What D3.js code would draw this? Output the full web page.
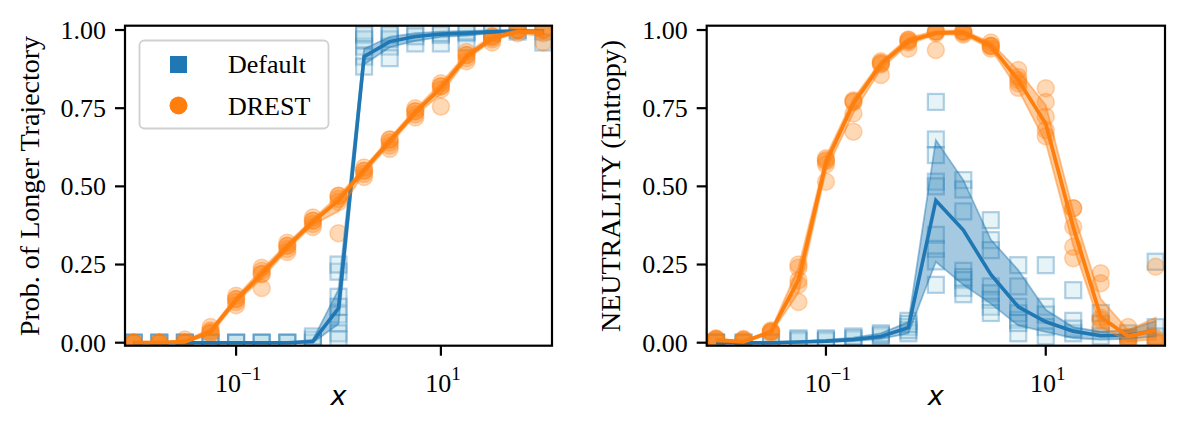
<!DOCTYPE html>
<html>
<head>
<meta charset="utf-8">
<script src="https://cdn.jsdelivr.net/npm/d3@7"></script>
<style>
body { margin: 0; background: #fff; }
text { font-family: "Liberation Serif", "Times New Roman", serif; fill: #000; }
.xlab { font-family: "DejaVu Sans", sans-serif; font-style: italic; }
</style>
</head>
<body>
<svg id="chart" width="1185" height="432"></svg>
<script>
// x grid: quarter decades from 1e-2 to 1e2
var xVals = [0.01, 0.01778, 0.03162, 0.05623, 0.1, 0.1778, 0.3162, 0.5623, 1,
             1.778, 3.162, 5.623, 10, 17.78, 31.62, 56.23, 100];

// ---- left panel: prob. of longer trajectory ----
var defProbMean = [0, 0, 0, 0, 0, 0, 0, 0.004, 0.11, 0.915, 0.963, 0.979, 0.987, 0.99, 0.994, 0.997, 0.995];
var defProbLo   = [0, 0, 0, 0, 0, 0, 0, 0, 0.06, 0.89, 0.945, 0.965, 0.978, 0.982, 0.99, 0.994, 0.99];
var defProbHi   = [0, 0, 0, 0, 0, 0, 0, 0.01, 0.17, 0.94, 0.978, 0.99, 0.995, 0.997, 0.999, 1, 1];
var defProbPts  = [[0,0,0],[0,0,0],[0,0,0],[0,0,0],[0,0,0],[0,0,0],[0,0,0],[0,0.01,0.02],
                   [0.227,0.147,0.115,0.09,0.063,0.03,0.01,0.25],
                   [0.984,0.947,0.915,0.883,0.97,0.99],[0.984,0.947,0.91,0.97,0.99],
                   [0.99,0.957,0.98],[0.984,0.957,0.99],[0.99,0.96,0.995],[0.99,1.0],[1.0,0.995],[0.995,0.96]];

var drProbMean = [0, 0, 0.003, 0.035, 0.137, 0.22, 0.307, 0.387, 0.455, 0.552, 0.645, 0.737, 0.815, 0.915, 0.974, 0.995, 0.992];
var drProbLo   = [0, 0, 0, 0.026, 0.128, 0.205, 0.296, 0.377, 0.42, 0.542, 0.633, 0.727, 0.795, 0.905, 0.966, 0.99, 0.98];
var drProbHi   = [0.003, 0.003, 0.007, 0.044, 0.146, 0.234, 0.317, 0.396, 0.47, 0.56, 0.654, 0.746, 0.83, 0.924, 0.982, 1, 1];
var drProbPts  = [[0,0,0,0,0],[0,0,0,0,0],[0,0,0.01,0,0],[0.03,0.04,0.035,0.05,0.03],
                  [0.13,0.14,0.14,0.12,0.15],[0.22,0.23,0.22,0.24,0.175],[0.3,0.31,0.31,0.29,0.32],
                  [0.38,0.39,0.39,0.4,0.37],[0.46,0.47,0.47,0.45,0.35],[0.55,0.55,0.56,0.54,0.53],
                  [0.64,0.65,0.65,0.63,0.62],[0.73,0.74,0.74,0.72,0.75],[0.82,0.82,0.83,0.81,0.755],
                  [0.92,0.92,0.91,0.9,0.93],[0.975,0.98,0.97,0.96,0.98],[1,1,1,0.99,1],[1,1,1,0.96,0.99]];

// ---- right panel: neutrality (entropy) ----
var defNeuMean = [0, 0, 0, 0.002, 0.005, 0.01, 0.02, 0.048, 0.455, 0.36, 0.218, 0.115, 0.067, 0.037, 0.022, 0.024, 0.04];
var defNeuLo   = [0, 0, 0, 0, 0.002, 0.005, 0.012, 0.03, 0.259, 0.185, 0.125, 0.055, 0.035, 0.015, 0.01, 0.012, 0.02];
var defNeuHi   = [0, 0, 0.001, 0.004, 0.009, 0.016, 0.03, 0.066, 0.648, 0.52, 0.33, 0.232, 0.105, 0.05, 0.035, 0.04, 0.07];
var defNeuPts  = [[0,0,0],[0,0],[0,0],[0.005,0.01,0.014],[0.005,0.01,0.014],[0.01,0.015,0.02],[0.02,0.025,0.03],
                  [0.07,0.05,0.03,0.04,0.06],
                  [0.77,0.65,0.6,0.515,0.5,0.345,0.3,0.26,0.185],
                  [0.52,0.49,0.42,0.23,0.21,0.2,0.175,0.155],
                  [0.392,0.328,0.296,0.18,0.158,0.137,0.115,0.095],
                  [0.248,0.18,0.115,0.073,0.03,0.094,0.063],
                  [0.248,0.115,0.09,0.05,0.02],
                  [0.168,0.07,0.03,0.045],
                  [0.095,0.06,0.02],
                  [0.03,0.015],
                  [0.259,0.05,0.02]];

var drNeuMean = [0.008, 0.003, 0.035, 0.2, 0.575, 0.765, 0.89, 0.965, 0.99, 0.993, 0.95, 0.84, 0.70, 0.37, 0.083, 0.02, 0.04];
var drNeuLo   = [0.003, 0, 0.03, 0.16, 0.55, 0.735, 0.875, 0.955, 0.985, 0.985, 0.94, 0.81, 0.64, 0.31, 0.05, 0.005, 0.01];
var drNeuHi   = [0.013, 0.006, 0.04, 0.24, 0.595, 0.78, 0.9, 0.975, 0.997, 0.999, 0.96, 0.87, 0.76, 0.42, 0.14, 0.04, 0.08];
var drNeuPts  = [[0.014,0.01,0.005,0.012,0.01],[0.012,0.005,0,0.01,0.008],[0.035,0.035,0.04,0.03,0.035],
                 [0.25,0.24,0.185,0.13,0.2],[0.584,0.58,0.57,0.515,0.59],[0.771,0.775,0.733,0.675,0.77],
                 [0.893,0.9,0.856,0.89,0.895],[0.968,0.97,0.94,0.965,0.96],[0.995,0.995,0.936,0.99,0.995],
                 [0.995,0.995,0.99,0.985,0.995],[0.947,0.95,0.96,0.94,0.95],[0.85,0.872,0.815,0.83,0.84],
                 [0.68,0.66,0.814,0.77,0.723],[0.43,0.43,0.371,0.307,0.27],[0.222,0.19,0.073,0.047,0.08],
                 [0.05,0.02,0.01,0.005,0.015],[0.243,0.015,0,0.005,0.01]];

var yTicks = [0, 0.25, 0.5, 0.75, 1];
var xTicks = [0.1, 10];
var xTickExp = ["\u22121", "1"];

var BLUE = "#1f77b4", ORANGE = "#ff7f0e";
var svg = d3.select("#chart");

function drawPanel(cfg, idx) {
  var x = d3.scaleLog().domain([Math.pow(10, -2.085), Math.pow(10, 2.085)]).range([cfg.left, cfg.right]);
  var y = d3.scaleLinear().domain([-0.0096, 1.0138]).range([345.7, 25.7]);
  var g = svg.append("g");

  svg.append("clipPath").attr("id", "clip" + idx)
    .append("rect").attr("x", cfg.left).attr("y", 25.7)
    .attr("width", cfg.right - cfg.left).attr("height", 320);
  var plot = g.append("g").attr("clip-path", "url(#clip" + idx + ")");

  function flat(pts) {
    var out = [];
    pts.forEach(function(arr, k) { arr.forEach(function(v) { out.push([xVals[k], v]); }); });
    return out;
  }
  var line = d3.line().x(function(d, i) { return x(xVals[i]); }).y(function(d) { return y(d); });
  function band(lo, hi) {
    return d3.area().x(function(d, i) { return x(xVals[i]); })
      .y0(function(d, i) { return y(lo[i]); }).y1(function(d, i) { return y(hi[i]); })(lo);
  }

  // scatter of individual runs
  plot.append("g").selectAll("rect").data(flat(cfg.defPts)).enter().append("rect")
    .attr("x", function(d) { return x(d[0]) - 8; })
    .attr("y", function(d) { return y(d[1]) - 8; })
    .attr("width", 16).attr("height", 16)
    .attr("fill", "lightblue").attr("fill-opacity", 0.3)
    .attr("stroke", BLUE).attr("stroke-opacity", 0.33).attr("stroke-width", 2.2);
  plot.append("g").selectAll("circle").data(flat(cfg.drPts)).enter().append("circle")
    .attr("cx", function(d) { return x(d[0]); })
    .attr("cy", function(d) { return y(d[1]); })
    .attr("r", 8.5)
    .attr("fill", ORANGE).attr("fill-opacity", 0.3)
    .attr("stroke", ORANGE).attr("stroke-opacity", 0.3).attr("stroke-width", 1.5);

  // confidence bands + means
  plot.append("path").attr("d", band(cfg.defLo, cfg.defHi))
    .attr("fill", BLUE).attr("fill-opacity", 0.4)
    .attr("stroke", BLUE).attr("stroke-opacity", 0.45).attr("stroke-width", 1.8);
  plot.append("path").attr("d", line(cfg.defMean))
    .attr("fill", "none").attr("stroke", BLUE).attr("stroke-width", 3.6);
  plot.append("path").attr("d", band(cfg.drLo, cfg.drHi))
    .attr("fill", ORANGE).attr("fill-opacity", 0.4)
    .attr("stroke", ORANGE).attr("stroke-opacity", 0.45).attr("stroke-width", 1.8);
  plot.append("path").attr("d", line(cfg.drMean))
    .attr("fill", "none").attr("stroke", ORANGE).attr("stroke-width", 3.8);

  // frame
  g.append("rect").attr("x", cfg.left).attr("y", 25.7)
    .attr("width", cfg.right - cfg.left).attr("height", 320)
    .attr("fill", "none").attr("stroke", "#000").attr("stroke-width", 2.2);

  // y ticks
  yTicks.forEach(function(t) {
    g.append("line").attr("x1", cfg.left - 10).attr("x2", cfg.left)
      .attr("y1", y(t)).attr("y2", y(t)).attr("stroke", "#000").attr("stroke-width", 2.2);
    g.append("text").attr("x", cfg.left - 19).attr("y", y(t)).attr("dy", "0.34em")
      .attr("text-anchor", "end").style("font-size", "26px").text(d3.format(".2f")(t));
  });
  // x ticks
  xTicks.forEach(function(t, i) {
    g.append("line").attr("x1", x(t)).attr("x2", x(t))
      .attr("y1", 345.7).attr("y2", 355.7).attr("stroke", "#000").attr("stroke-width", 2.2);
    var tx = g.append("text").attr("x", x(t) + 2).attr("y", 392).attr("text-anchor", "middle")
      .style("font-size", "26px");
    tx.append("tspan").text("10");
    tx.append("tspan").attr("dy", -12).style("font-size", "19px").text(xTickExp[i]);
  });

  g.append("text").attr("class", "xlab").attr("x", (cfg.left + cfg.right) / 2).attr("y", 405)
    .attr("text-anchor", "middle").style("font-size", "27px").text("x");
  g.append("text").attr("transform", "translate(" + cfg.ylabX + ",186) rotate(-90)")
    .attr("text-anchor", "middle").style("font-size", "28px").text(cfg.ylabel);
}

drawPanel({left: 125, right: 552, ylabX: 39, ylabel: "Prob. of Longer Trajectory",
  defMean: defProbMean, defLo: defProbLo, defHi: defProbHi, defPts: defProbPts,
  drMean: drProbMean, drLo: drProbLo, drHi: drProbHi, drPts: drProbPts}, 0);
drawPanel({left: 706.7, right: 1165, ylabX: 620, ylabel: "NEUTRALITY (Entropy)",
  defMean: defNeuMean, defLo: defNeuLo, defHi: defNeuHi, defPts: defNeuPts,
  drMean: drNeuMean, drLo: drNeuLo, drHi: drNeuHi, drPts: drNeuPts}, 1);

// legend
var lg = svg.append("g");
lg.append("rect").attr("x", 139.5).attr("y", 40.5).attr("width", 189).attr("height", 88)
  .attr("rx", 5).attr("fill", "#fff").attr("fill-opacity", 0.8)
  .attr("stroke", "#d0d0d0").attr("stroke-width", 1.8);
lg.append("rect").attr("x", 170).attr("y", 56).attr("width", 17).attr("height", 17).attr("fill", BLUE);
lg.append("circle").attr("cx", 178.5).attr("cy", 105.5).attr("r", 9).attr("fill", ORANGE);
lg.append("text").attr("x", 228).attr("y", 64.5).attr("dy", "0.34em").style("font-size", "26px").text("Default");
lg.append("text").attr("x", 228).attr("y", 106).attr("dy", "0.34em").style("font-size", "26px").text("DREST");
</script>
</body>
</html>
